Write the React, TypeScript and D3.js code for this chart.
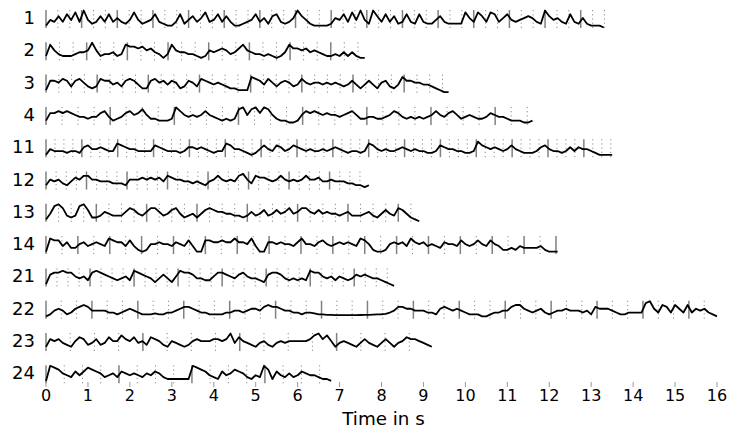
import React from "react";
import * as d3 from "d3";

const W = 737;
const H = 439;
const STEP = 0.1; // seconds between trace samples

const rowLabels = ["1", "2", "3", "4", "11", "12", "13", "14", "21", "22", "23", "24"];
const beatsPerBar = [3, 3, 4, 4, 4, 4, 4, 2, 4, 3, 4, 4];

const downbeats1 = [0, 0.85, 1.7, 2.55, 3.4, 4.25, 5.1, 5.95, 6.8, 7.65, 8.5, 9.35, 10.2, 11.05, 11.9, 12.75];
const downbeats2 = [0, 0.97, 1.94, 2.91, 3.88, 4.85, 5.82, 6.79];
const downbeats3 = [0, 1.22, 2.44, 3.66, 4.88, 6.1, 7.32, 8.54];
const downbeats4 = [0, 1.53, 3.06, 4.59, 6.12, 7.65, 9.18, 10.71];
const downbeats11 = [0, 0.855, 1.71, 2.565, 3.42, 4.275, 5.13, 5.985, 6.84, 7.695, 8.55, 9.405, 10.26, 11.115, 11.97, 12.825];
const downbeats12 = [0, 0.966, 1.932, 2.898, 3.864, 4.83, 5.796, 6.762, 7.728];
const downbeats13 = [0, 1.2, 2.4, 3.6, 4.8, 6.0, 7.2, 8.4];
const downbeats14 = [0, 0.76, 1.52, 2.28, 3.04, 3.8, 4.56, 5.32, 6.08, 6.84, 7.6, 8.36, 9.12, 9.88, 10.64, 11.4, 12.16];
const downbeats21 = [0, 1.05, 2.1, 3.15, 4.2, 5.25, 6.3, 7.35];
const downbeats22 = [0, 1.095, 2.19, 3.285, 4.38, 5.475, 6.57, 7.665, 8.76, 9.855, 10.95, 12.045, 13.14, 14.235, 15.33];
const downbeats23 = [0, 2.31, 4.62, 6.93, 9.24];
const downbeats24 = [0, 1.74, 3.48, 5.22];

const trace1 = [1,4,3,6,3,7,4,8,3,9,4, 2,3,6,3,7,3,5,3,2,4, 8,4,2,3,4,7,3,2,1,1, 3,7,2,4,6,3,5,8,3,4, 7,3,6,3,1,1,2,3,4,7, 3,5,2,6,7,3,2,3,5,9, 6,4,2,1,1,1,1,2,5,4, 7,3,8,4,9,4,2,9,6,3, 7,3,6,2,3,7,3,2,7,3, 2,2,4,6,3,2,2,2,2,8, 5,3,8,6,3,8,7,3,5,7, 4,3,4,5,6,5,3,2,9,6, 4,5,3,2,7,3,2,5,2,1, 1,1,0];
const trace2 = [2,8,5,3,2,2,2,3,4,4, 5,9,5,2,3,3,4,2,3,8, 7,7,6,7,5,6,4,3,1,3, 8,5,4,4,3,3,2,1,2,5, 4,5,6,5,3,4,6,8,5,4, 3,3,2,3,2,1,2,4,8,6, 6,5,6,4,5,4,3,2,2,3, 2,4,2,4,2,1,1];
const trace3 = [1,6,6,5,7,6,3,6,7,5, 3,2,3,7,6,6,4,5,3,6, 7,6,4,2,2,6,7,5,6,4, 6,5,2,3,6,5,3,7,6,5, 4,5,4,3,2,2,1,1,1,8, 7,6,4,7,5,3,5,6,5,3, 4,7,5,4,5,5,4,5,4,5, 4,3,4,6,4,2,4,6,4,2, 5,6,3,2,4,8,6,6,5,5, 4,4,3,2,1,0,0];
const trace4 = [2,6,6,7,6,7,6,5,4,4, 3,4,4,6,7,4,2,3,4,6, 7,5,6,8,5,3,3,2,2,2, 3,9,7,5,4,5,4,5,7,5, 4,3,2,3,2,3,8,9,5,8, 9,6,9,8,5,3,2,2,1,1, 2,5,7,6,7,6,5,6,5,5, 4,5,6,7,5,3,3,4,4,3, 3,4,5,7,6,4,3,4,3,4, 3,4,5,7,5,4,6,7,5,3, 4,5,4,3,3,4,6,5,4,4, 3,2,2,2,1,1,2];
const trace11 = [1,4,3,3,3,2,3,3,2,5, 6,4,4,5,4,3,3,7,6,5, 4,4,3,3,3,3,6,5,4,3, 3,3,2,3,5,5,4,5,4,3, 2,3,3,7,6,4,4,3,2,1, 2,4,6,4,3,6,5,3,4,6, 5,4,3,4,3,3,4,3,4,5, 4,3,2,3,3,2,3,7,6,4, 3,4,3,3,4,5,4,3,4,3, 3,2,2,3,6,5,4,4,3,3, 2,2,3,8,6,5,4,5,4,3, 4,6,4,3,2,2,2,3,5,6, 4,3,3,2,3,5,3,5,4,4, 3,2,1,1,1,1];
const trace12 = [2,5,4,5,3,2,4,6,5,7, 7,5,5,4,4,4,3,3,3,2, 5,5,5,6,5,6,5,6,4,7, 6,5,5,4,4,3,4,3,2,4, 5,7,5,4,5,4,7,8,5,3, 7,6,6,5,4,5,7,5,4,5, 4,5,7,5,5,6,4,4,5,4, 4,4,3,3,2,2,1,2];
const trace13 = [1,4,8,9,7,3,2,3,8,9, 6,2,2,3,5,4,3,3,3,5, 7,6,4,3,5,7,7,5,3,4, 6,7,4,2,3,4,2,4,6,7, 6,5,5,4,4,3,3,2,3,5, 3,4,6,3,4,6,4,5,7,4, 5,7,7,5,4,6,4,5,4,4, 3,4,5,3,3,3,4,5,3,2, 4,6,4,3,7,6,4,2,1,0];
const trace14 = [1,8,7,7,4,6,3,3,5,6, 4,5,6,5,4,8,7,6,6,4, 7,4,2,1,2,5,5,6,5,5, 4,6,5,4,7,4,1,1,7,7, 6,6,7,6,6,8,6,6,5,8, 4,1,1,6,6,5,6,5,5,4, 6,8,5,5,4,6,7,5,4,5, 6,5,6,5,4,8,7,5,2,1, 1,2,5,6,5,6,4,8,6,5, 6,4,5,4,3,6,5,5,4,7, 5,4,5,7,5,4,7,5,4,2, 2,3,2,4,3,3,3,3,4,2, 1,1,1];
const trace21 = [1,6,7,7,8,7,7,5,4,5, 3,7,8,7,6,5,4,3,4,5, 3,8,7,6,5,4,2,4,6,4, 2,5,8,7,7,6,4,4,3,3, 5,7,7,6,5,4,6,7,5,4, 4,3,2,6,7,7,6,4,3,4, 3,4,3,8,7,7,5,4,5,3, 5,4,3,4,6,5,6,5,4,4, 3,2,1,0];
const trace22 = [1,2,4,5,4,2,3,5,6,7, 6,4,4,4,4,3,3,2,3,4, 5,4,3,2,2,2,2.5,2,2,3, 3,4,5,6,6,5,4,3,3,2, 2,2,2,3,3,4,4,3,4,5, 5,4,6,7,6,6,5,4,4,3, 3,2,3,3,2.5,2,2,1.8,1.8,1.6, 1.6,1.6,1.6,1.6,1.6,1.7,1.8,1.8,1.9,2, 2.1,2.3,3,4,6,6,5,5,4,4, 4,3,3,2,5,6,5,4,5,4, 3,2,2,2,1,1,2,3,3,4, 4,6,7,7,5,4,3,4,5,3, 2,3,4,4,5,4,4,4,3,4, 2,6,5,5,5,4,3,2,2,3, 3,3,3,8,9,5,3,7,6,3, 7,5,3,7,3,5,4,5,3,2, 1];
const trace23 = [2,6,5,6,4,3,2,5,7,6, 3,4,6,3,4,7,5,5,8,6, 5,7,4,5,3,7,6,5,3,2, 5,4,3,2,3,5,6,5,5,5, 6,6,5,6,9,4,7,5,4,3, 2,4,5,3,2,4,5,4,5,5, 5,5,5,6,8,9,6,8,5,2, 4,5,4,3,2,4,6,4,3,2, 4,6,4,2,4,5,7,6,6,5, 4,3,2];
const trace24 = [1,9,8,7,5,4,3,6,4,6, 8,7,6,5,3,4,5,3,6,5, 4,5,4,3,5,4,6,5,3,2, 2,2,2,2,2,9,8,7,6,4, 3,2,6,4,5,7,6,5,3,2, 4,3,9,7,2,6,4,3,5,3, 4,6,5,4,4,3,2,2,1];

const downbeats = [downbeats1, downbeats2, downbeats3, downbeats4, downbeats11, downbeats12, downbeats13, downbeats14, downbeats21, downbeats22, downbeats23, downbeats24];
const traces = [trace1, trace2, trace3, trace4, trace11, trace12, trace13, trace14, trace21, trace22, trace23, trace24];
const xTicks = d3.range(0, 17);

const FONT = "DejaVu Sans, sans-serif";

export default function App() {
  const x = d3.scaleLinear().domain([0, 16]).range([46, 717]);
  const rowY = d3.scalePoint<string>().domain(rowLabels).range([17, 372.3]);
  const vy = d3.scaleLinear().domain([0, 9]).range([10.5, -6.5]);
  const line = d3
    .line<number>()
    .x((_, i) => x(i * STEP))
    .y((d) => vy(d));

  return (
    <svg
      width={W}
      height={H}
      style={{ position: "absolute", left: 0, top: 0, background: "#fff" }}
      fontFamily={FONT}
    >
      {rowLabels.map((lab, r) => {
        const cy = rowY(lab) as number;
        const tr = traces[r];
        const end = (tr.length - 1) * STEP;
        const db = downbeats[r];
        const n = beatsPerBar[r];
        const beats: number[] = [];
        db.forEach((t, i) => {
          const next = i + 1 < db.length ? db[i + 1] : t + (t - db[i - 1]);
          for (let k = 1; k < n; k++) {
            const bt = t + (k * (next - t)) / n;
            if (bt <= end + 0.02) beats.push(bt);
          }
        });
        return (
          <g key={lab} transform={`translate(0,${cy})`}>
            <text x={35} y={7} fontSize={18} textAnchor="end" fill="#000">
              {lab}
            </text>
            {beats.map((b, i) => (
              <line
                key={"b" + i}
                x1={x(b)}
                x2={x(b)}
                y1={-7}
                y2={11}
                stroke="#8a8a8a"
                strokeWidth={1}
                strokeDasharray="1.2,3"
              />
            ))}
            {db
              .filter((t) => t <= end + 0.02)
              .map((t, i) => (
                <line
                  key={"d" + i}
                  x1={x(t)}
                  x2={x(t)}
                  y1={-7}
                  y2={11}
                  stroke="#808080"
                  strokeWidth={1.5}
                />
              ))}
            <path d={line(tr) ?? ""} fill="none" stroke="#000" strokeWidth={1.8} strokeLinejoin="round" />
          </g>
        );
      })}
      {xTicks.map((t) => (
        <g key={t} transform={`translate(${x(t)},0)`}>
          <line y1={382} y2={387} stroke="#999" strokeWidth={1} />
          <text y={401} fontSize={16} textAnchor="middle" fill="#000">
            {t}
          </text>
        </g>
      ))}
      <text x={(x(0) + x(16)) / 2 + 2} y={425} fontSize={18.3} textAnchor="middle" fill="#000">
        Time in s
      </text>
    </svg>
  );
}
